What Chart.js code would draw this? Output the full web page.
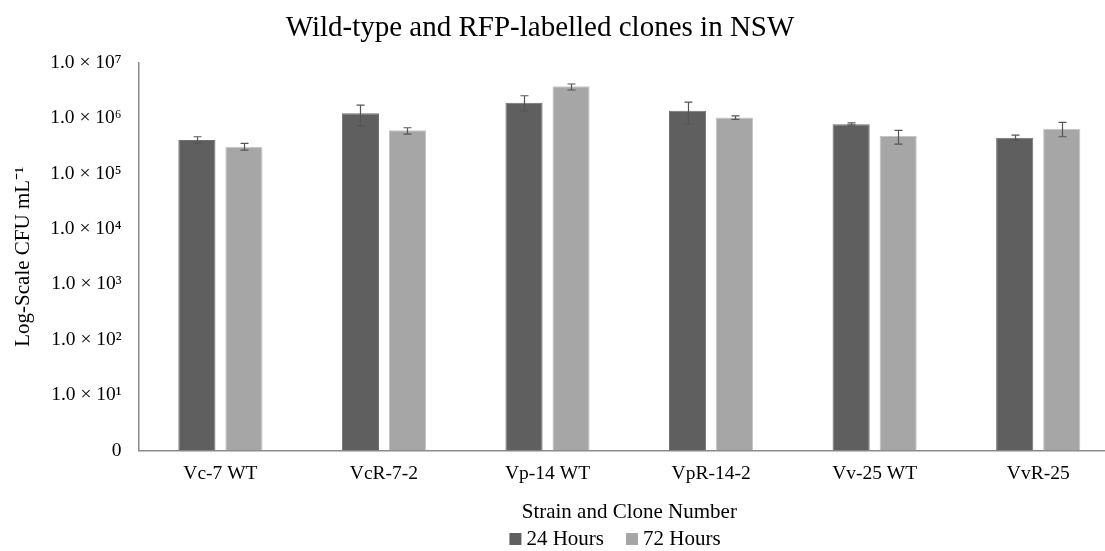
<!DOCTYPE html>
<html>
<head>
<meta charset="utf-8">
<script src="https://cdn.jsdelivr.net/npm/chart.js@4/dist/chart.umd.min.js"></script>
<style>
  html, body { margin: 0; padding: 0; background: #fff; }
  #wrap { width: 1105px; height: 551px; overflow: hidden; position: relative; }
  #chart { position: absolute; left: 0; top: 0; }
</style>
</head>
<body>
<div id="wrap"><canvas id="chart" width="1120" height="551"></canvas></div>
<script>
// categories and series (CFU per mL)
const strains = ["Vc-7 WT", "VcR-7-2", "Vp-14 WT", "VpR-14-2", "Vv-25 WT", "VvR-25"];
const hours24 = [4.05e5, 1.23e6, 1.92e6, 1.37e6, 7.8e5, 4.46e5];
const hours72 = [3.07e5, 6.1e5, 3.79e6, 1.04e6, 4.78e5, 6.5e5];
// error bar ends (upper / lower)
const err24Hi = [4.65e5, 1.74e6, 2.56e6, 1.97e6, 8.3e5, 4.99e5];
const err24Lo = [3.53e5, 7.26e5, 1.37e6, 7.9e5, 7.57e5, 4.05e5];
const err72Hi = [3.53e5, 6.76e5, 4.17e6, 1.11e6, 6.07e5, 8.47e5];
const err72Lo = [2.67e5, 5.2e5, 3.25e6, 9.6e5, 3.43e5, 4.65e5];
// y ticks
const yTicks = [1, 1e1, 1e2, 1e3, 1e4, 1e5, 1e6, 1e7];
const yTickLabels = ["0", "1.0 × 10¹", "1.0 × 10²", "1.0 × 10³", "1.0 × 10⁴", "1.0 × 10⁵", "1.0 × 10⁶", "1.0 × 10⁷"];
const chartTitle = 'Wild-type and RFP-labelled clones in NSW';

const serif = '"Liberation Serif", "Times New Roman", serif';
const errHi = [err24Hi, err72Hi];
const errLo = [err24Lo, err72Lo];

// draws the whiskers from the hi/lo arrays
const errorBarPlugin = {
  id: 'errorBars',
  afterDatasetsDraw(chart) {
    const { ctx, scales: { y } } = chart;
    ctx.save();
    ctx.strokeStyle = '#555555';
    ctx.lineWidth = 1.2;
    chart.data.datasets.forEach((ds, i) => {
      const meta = chart.getDatasetMeta(i);
      meta.data.forEach((bar, j) => {
        const x = Math.round(bar.x) + 0.5;
        const top = y.getPixelForValue(errHi[i][j]);
        const bot = y.getPixelForValue(errLo[i][j]);
        ctx.beginPath();
        ctx.moveTo(x, top);
        ctx.lineTo(x, bot);
        ctx.moveTo(x - 4, top);
        ctx.lineTo(x + 4, top);
        ctx.moveTo(x - 4, bot);
        ctx.lineTo(x + 4, bot);
        ctx.stroke();
      });
    });
    ctx.restore();
  }
};

// title and legend sit off the canvas centre in the original, so place them by hand
const textPlugin = {
  id: 'titleLegend',
  afterDraw(chart) {
    const ctx = chart.ctx;
    ctx.save();
    ctx.fillStyle = '#000';
    ctx.textBaseline = 'middle';
    ctx.font = '29px ' + serif;
    ctx.textAlign = 'center';
    ctx.fillText(chartTitle, 540, 28);

    // legend row
    ctx.font = '21px ' + serif;
    ctx.textAlign = 'left';
    const box = 12, gapText = 5, gapItem = 22, ly = 539;
    const items = chart.data.datasets.map(ds => ({
      label: ds.label, color: ds.backgroundColor, w: ctx.measureText(ds.label).width
    }));
    const total = items.reduce((s, it) => s + box + gapText + it.w, 0) + gapItem * (items.length - 1);
    let x = 615 - total / 2;
    items.forEach(it => {
      ctx.fillStyle = it.color;
      ctx.fillRect(x, ly - box / 2, box, box);
      ctx.fillStyle = '#000';
      ctx.fillText(it.label, x + box + gapText, ly);
      x += box + gapText + it.w + gapItem;
    });
    ctx.restore();
  }
};

new Chart(document.getElementById('chart').getContext('2d'), {
  type: 'bar',
  data: {
    labels: strains,
    datasets: [
      {
        label: '24 Hours',
        data: hours24,
        backgroundColor: '#5f5f5f',
        borderColor: '#707070',
        borderWidth: 1,
        barPercentage: 0.79,
        categoryPercentage: 0.575
      },
      {
        label: '72 Hours',
        data: hours72,
        backgroundColor: '#a6a6a6',
        borderColor: '#c4c4c4',
        borderWidth: 1,
        barPercentage: 0.79,
        categoryPercentage: 0.575
      }
    ]
  },
  options: {
    responsive: false,
    animation: false,
    layout: { padding: { top: 63, left: 11, right: 0, bottom: 26 } },
    plugins: {
      tooltip: { enabled: false },
      title: { display: false },
      legend: { display: false }
    },
    scales: {
      x: {
        grid: { display: false },
        border: { display: true, color: '#8a8a8a', width: 1.5 },
        ticks: { color: '#000', font: { family: serif, size: 19.5 }, padding: 4 },
        title: {
          display: true,
          text: 'Strain and Clone Number',
          color: '#000',
          font: { family: serif, size: 21 },
          padding: { top: 10, bottom: 0 }
        }
      },
      y: {
        type: 'logarithmic',
        min: 1,
        max: 1e7,
        grid: { display: false },
        border: { display: true, color: '#8a8a8a', width: 1.5 },
        afterBuildTicks(scale) {
          scale.ticks = yTicks.map(v => ({ value: v }));
        },
        ticks: {
          color: '#000',
          font: { family: serif, size: 19.5 },
          padding: 9,
          callback(value) {
            const idx = yTicks.indexOf(value);
            return idx >= 0 ? yTickLabels[idx] : '';
          }
        },
        title: {
          display: true,
          text: 'Log-Scale CFU mL⁻¹',
          color: '#000',
          font: { family: serif, size: 21 },
          padding: { top: 0, bottom: 5 }
        }
      }
    }
  },
  plugins: [errorBarPlugin, textPlugin]
});
</script>
</body>
</html>
